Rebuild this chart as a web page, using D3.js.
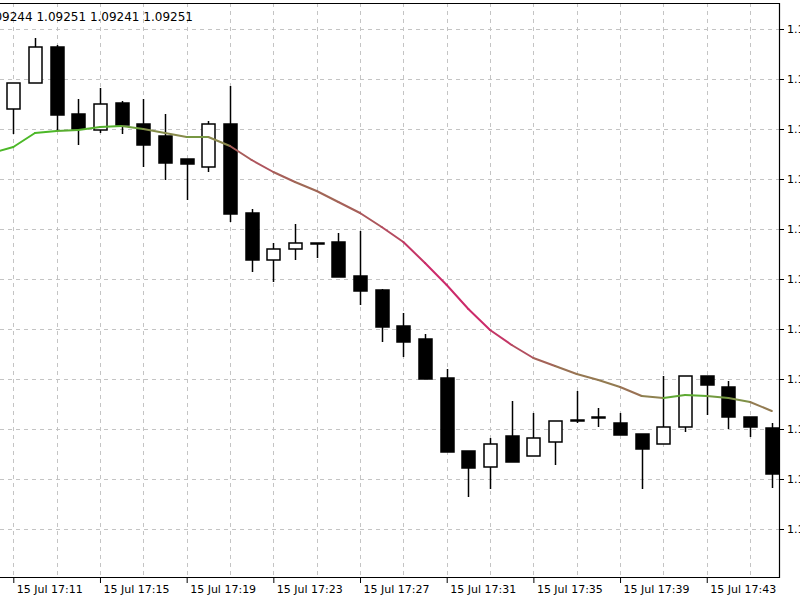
<!DOCTYPE html>
<html>
<head>
<meta charset="utf-8">
<script src="https://cdn.jsdelivr.net/npm/d3@7"></script>
<style>
  body { margin: 0; background: #fff; }
  svg { display: block; font-family: "DejaVu Sans", sans-serif; }
</style>
</head>
<body>
<script>
// one candle per minute starting 15 Jul 17:11
const opens  = [1.101340,1.101392,1.101464,1.101330,1.101298,1.101352,1.101310,1.101286,1.101240,1.101224,1.101310,1.101132,
                1.101038,1.101060,1.101072,1.101074,1.101006,1.100978,1.100906,1.100880,1.100802,1.100656,1.100624,1.100686,
                1.100646,1.100674,1.100716,1.100724,1.100712,1.100690,1.100670,1.100704,1.100806,1.100784,1.100724,1.100702];
const highs  = [1.101392,1.101482,1.101468,1.101360,1.101382,1.101356,1.101360,1.101330,1.101240,1.101316,1.101386,1.101140,
                1.101072,1.101110,1.101072,1.101092,1.101096,1.100980,1.100932,1.100890,1.100820,1.100656,1.100682,1.100756,
                1.100732,1.100716,1.100776,1.100742,1.100732,1.100690,1.100806,1.100806,1.100806,1.100796,1.100724,1.100712];
const lows   = [1.101290,1.101392,1.101298,1.101268,1.101292,1.101290,1.101224,1.101198,1.101158,1.101214,1.101114,1.101014,
                1.100994,1.101038,1.101042,1.101004,1.100948,1.100874,1.100844,1.100800,1.100654,1.100564,1.100580,1.100634,
                1.100646,1.100628,1.100712,1.100704,1.100688,1.100580,1.100670,1.100694,1.100728,1.100700,1.100684,1.100582];
const closes = [1.101392,1.101464,1.101328,1.101300,1.101350,1.101308,1.101268,1.101232,1.101230,1.101310,1.101130,1.101038,
                1.101060,1.101072,1.101072,1.101004,1.100976,1.100904,1.100874,1.100800,1.100654,1.100622,1.100670,1.100634,
                1.100682,1.100716,1.100718,1.100724,1.100688,1.100660,1.100704,1.100806,1.100788,1.100724,1.100704,1.100610];
// moving average, starting one minute earlier (17:10)
const maValues = [1.101252,1.101264,1.101292,1.101296,1.101298,1.101304,1.101306,1.101300,1.101292,1.101284,1.101284,1.101266,
                  1.101238,1.101214,1.101194,1.101176,1.101154,1.101132,1.101104,1.101074,1.101032,1.100988,1.100940,1.100898,
                  1.100868,1.100842,1.100826,1.100810,1.100798,1.100784,1.100766,1.100762,1.100768,1.100766,1.100762,1.100754,1.100736];
const tickMinutes = [0, 4, 8, 12, 16, 20, 24, 28, 32];   // minutes after 17:11
const priceTicks = d3.range(11).map(i => 1.1005 + i * 0.0001);
const header = "1.09244 1.09251 1.09241 1.09251";

const W = 800, H = 600;
const plotRight = 779, plotTop = 3, plotBottom = 577;

const x = d3.scaleLinear().domain([0, 1]).range([13.3, 34.97]);
const y = d3.scaleLinear().domain([1.1005, 1.1015]).range([529, 29]);
const label = m => { const t = new Date(2020, 6, 15, 17, 11 + m); return d3.timeFormat("%d %b %H:%M")(t); };

const svg = d3.select("body").append("svg").attr("width", W).attr("height", H);

svg.append("clipPath").attr("id", "plot").append("rect")
  .attr("x", 0).attr("y", plotTop).attr("width", plotRight).attr("height", plotBottom - plotTop);

// grid
const grid = svg.append("g").attr("stroke", "#c4c4c4").attr("stroke-dasharray", "4,4").attr("clip-path", "url(#plot)");
grid.selectAll(".v").data(d3.range(0, 36, 2)).enter().append("line")
  .attr("x1", d => Math.round(x(d)) + 0.5).attr("x2", d => Math.round(x(d)) + 0.5)
  .attr("y1", plotTop).attr("y2", plotBottom);
grid.selectAll(".h").data(priceTicks).enter().append("line")
  .attr("y1", d => Math.round(y(d)) + 0.5).attr("y2", d => Math.round(y(d)) + 0.5)
  .attr("x1", 0).attr("x2", plotRight);

// candles
const candles = d3.range(opens.length);
const cg = svg.append("g").attr("clip-path", "url(#plot)");
cg.selectAll(".wick").data(candles).enter().append("line")
  .attr("x1", i => Math.round(x(i)) + 0.5).attr("x2", i => Math.round(x(i)) + 0.5)
  .attr("y1", i => y(highs[i])).attr("y2", i => y(lows[i]))
  .attr("stroke", "#000").attr("stroke-width", 1.5);
cg.selectAll(".body").data(candles).enter().append("rect")
  .attr("x", i => Math.round(x(i)) - 6)
  .attr("width", 13)
  .attr("y", i => y(Math.max(opens[i], closes[i])))
  .attr("height", i => Math.max(1, Math.abs(y(opens[i]) - y(closes[i]))))
  .attr("fill", i => closes[i] >= opens[i] ? "#fff" : "#000")
  .attr("stroke", "#000").attr("stroke-width", 1.5);

// moving average coloured by slope
const slopeColor = d3.scaleLinear().domain([-3, 4, 20]).range(["#4cb828", "#888a4c", "#cc2a6a"]).clamp(true);
const mg = svg.append("g").attr("clip-path", "url(#plot)");
for (let k = 0; k < maValues.length - 1; k++) {
  const y0 = y(maValues[k]), y1 = y(maValues[k + 1]);
  const prev = k > 0 ? y0 - y(maValues[k - 1]) : y1 - y0;
  const slope = (prev + (y1 - y0)) / 2;
  mg.append("line")
    .attr("x1", x(k - 1)).attr("y1", y0).attr("x2", x(k)).attr("y2", y1)
    .attr("stroke", slopeColor(slope)).attr("stroke-width", 2).attr("stroke-linecap", "round");
}

// frame
svg.append("path").attr("d", `M0,${plotTop + 0.5}H${plotRight + 0.5}V${plotBottom + 0.5}H0`)
  .attr("fill", "none").attr("stroke", "#000").attr("stroke-width", 1.2);

// axes
const xAxis = svg.append("g").attr("transform", `translate(0,${plotBottom})`)
  .call(d3.axisBottom(x).tickValues(tickMinutes).tickSize(6).tickFormat(label));
xAxis.select(".domain").remove();
xAxis.selectAll("text").attr("text-anchor", "start").attr("x", 3).attr("dy", "0.6em")
  .attr("font-size", 11).attr("font-family", "DejaVu Sans").attr("fill", "#000");

const yAxis = svg.append("g").attr("transform", `translate(${plotRight},0)`)
  .call(d3.axisRight(y).tickValues(priceTicks).tickSize(5).tickFormat(d3.format(".5f")));
yAxis.select(".domain").remove();
yAxis.selectAll("text").attr("font-size", 11).attr("font-family", "DejaVu Sans").attr("fill", "#000");

svg.append("text").attr("x", -17).attr("y", 21).attr("font-size", 12).text(header);
</script>
</body>
</html>
